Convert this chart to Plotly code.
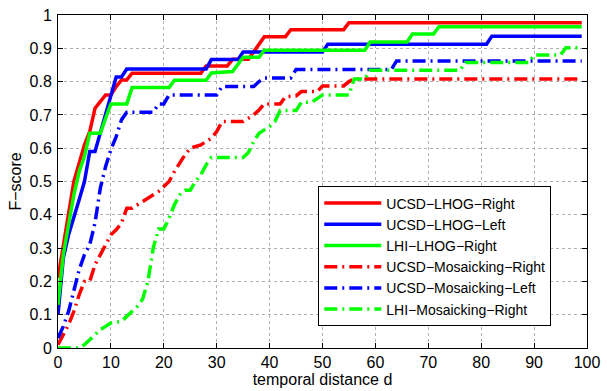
import plotly.graph_objects as go

# ---- data (temporal distance d -> F-score) ----
ucsd_lhog_right_d = [0, 1, 2, 3, 4, 5, 6, 7, 8, 9, 10, 11, 12, 13, 14, 27, 28, 32, 33, 36, 39, 43, 44, 54, 55, 99]
ucsd_lhog_right_f = [0.21, 0.31, 0.41, 0.50, 0.555, 0.61, 0.65, 0.72, 0.74, 0.76, 0.76, 0.785, 0.805, 0.805, 0.825,
                     0.825, 0.847, 0.847, 0.867, 0.867, 0.935, 0.935, 0.956, 0.956, 0.977, 0.977]

ucsd_lhog_left_d = [0, 1, 2, 3, 4, 5, 6, 7, 11, 12, 13, 28, 29, 34, 35, 50, 51, 81, 82, 99]
ucsd_lhog_left_f = [0.10, 0.27, 0.34, 0.39, 0.445, 0.50, 0.59, 0.59, 0.814, 0.814, 0.838, 0.838, 0.866, 0.866,
                    0.889, 0.889, 0.912, 0.912, 0.936, 0.936]

lhi_lhog_right_d = [0, 1, 2, 3, 4, 5, 6, 8, 9, 10, 13, 14, 21, 22, 28, 29, 33, 34, 35, 38, 39, 58, 59, 66, 67, 71, 72, 99]
lhi_lhog_right_f = [0.13, 0.28, 0.37, 0.46, 0.53, 0.575, 0.645, 0.645, 0.69, 0.733, 0.733, 0.782, 0.782, 0.804,
                    0.804, 0.826, 0.83, 0.85, 0.873, 0.873, 0.894, 0.894, 0.919, 0.919, 0.943, 0.943, 0.965, 0.965]

ucsd_mos_right_d = [0, 1, 2, 3, 4, 5, 6, 7, 8, 9, 10, 11, 12, 13, 14, 15, 16, 17, 18, 19, 20, 21, 22, 23, 24, 25,
                    26, 27, 28, 29, 30, 31, 35, 36, 37, 38, 39, 42, 43, 45, 46, 49, 50, 54, 55, 56, 99]
ucsd_mos_right_f = [0.01, 0.04, 0.07, 0.11, 0.16, 0.20, 0.20, 0.25, 0.28, 0.31, 0.34, 0.355, 0.375, 0.42, 0.42,
                    0.43, 0.44, 0.45, 0.46, 0.47, 0.485, 0.50, 0.53, 0.555, 0.58, 0.60, 0.605, 0.61, 0.62, 0.63,
                    0.65, 0.68, 0.68, 0.69, 0.70, 0.715, 0.733, 0.733, 0.755, 0.757, 0.77, 0.77, 0.787, 0.787,
                    0.80, 0.808, 0.808]

ucsd_mos_left_d = [0, 1, 2, 3, 4, 5, 6, 7, 8, 9, 10, 11, 12, 13, 18, 19, 20, 21, 30, 31, 37, 38, 39, 44, 45, 63, 64, 99]
ucsd_mos_left_f = [0.03, 0.065, 0.11, 0.17, 0.235, 0.28, 0.31, 0.376, 0.48, 0.545, 0.596, 0.635, 0.685, 0.708,
                   0.708, 0.733, 0.733, 0.76, 0.76, 0.785, 0.785, 0.80, 0.811, 0.811, 0.836, 0.836, 0.862, 0.862]

lhi_mos_right_d = [0, 4, 5, 6, 7, 8, 9, 10, 11, 12, 13, 14, 15, 16, 17, 18, 19, 20, 21, 22, 23, 24, 25, 26, 27, 28,
                   29, 35, 36, 37, 38, 39, 40, 41, 42, 45, 46, 48, 49, 50, 55, 56, 58, 59, 76, 77, 89, 90, 95, 96, 99]
lhi_mos_right_f = [0, 0, 0.01, 0.025, 0.04, 0.055, 0.065, 0.075, 0.078, 0.08, 0.095, 0.11, 0.125, 0.147, 0.2, 0.3,
                   0.357, 0.357, 0.39, 0.43, 0.46, 0.474, 0.474, 0.5, 0.52, 0.55, 0.572, 0.572, 0.587, 0.62, 0.645,
                   0.655, 0.665, 0.68, 0.713, 0.713, 0.738, 0.738, 0.75, 0.76, 0.76, 0.808, 0.808, 0.834, 0.834,
                   0.857, 0.857, 0.88, 0.88, 0.902, 0.902]

series = [
    ("UCSD−LHOG−Right", ucsd_lhog_right_d, ucsd_lhog_right_f, "#FF0000", "solid"),
    ("UCSD−LHOG−Left", ucsd_lhog_left_d, ucsd_lhog_left_f, "#0000FF", "solid"),
    ("LHI−LHOG−Right", lhi_lhog_right_d, lhi_lhog_right_f, "#00FF00", "solid"),
    ("UCSD−Mosaicking−Right", ucsd_mos_right_d, ucsd_mos_right_f, "#FF0000", "13px,5px,2px,5px"),
    ("UCSD−Mosaicking−Left", ucsd_mos_left_d, ucsd_mos_left_f, "#0000FF", "13px,5px,2px,5px"),
    ("LHI−Mosaicking−Right", lhi_mos_right_d, lhi_mos_right_f, "#00FF00", "13px,5px,2px,5px"),
]

x_ticks = list(range(0, 101, 10))
y_ticks = [i / 10 for i in range(11)]

fig = go.Figure()
for name, d, f, color, dash in series:
    fig.add_trace(go.Scatter(x=d, y=f, mode="lines", name=name,
                             line=dict(color=color, width=3.5, dash=dash)))

FONT = "Liberation Sans, Arial, sans-serif"
FS = 16
axis_common = dict(showline=True, linecolor="black", linewidth=1, mirror="ticks",
                   ticks="inside", ticklen=5, tickcolor="black", tickwidth=1,
                   showgrid=True, gridcolor="#b0b0b0", griddash="dot", gridwidth=1,
                   zeroline=False, ticklabeloverflow="allow",
                   tickfont=dict(family=FONT, size=FS, color="black"))

fig.update_layout(
    width=607, height=391,
    margin=dict(l=58, r=13, t=7, b=43),
    paper_bgcolor="white", plot_bgcolor="white",
    font=dict(family=FONT, size=FS, color="black"),
    showlegend=True,
    legend=dict(x=0.492, y=0.485, xanchor="left", yanchor="top",
                bgcolor="white", bordercolor="black", borderwidth=1,
                font=dict(family=FONT, size=14, color="black"),
                tracegroupgap=0, itemwidth=57, entrywidth=182, entrywidthmode="pixels"),
    xaxis=dict(range=[0, 100], tickvals=x_ticks, ticktext=[str(v) for v in x_ticks],
               title=dict(text="temporal distance d", font=dict(family=FONT, size=FS), standoff=0),
               **axis_common),
    yaxis=dict(range=[0, 1], tickvals=y_ticks, ticktext=["0"] + [f"{v:.1f}" for v in y_ticks[1:-1]] + ["1"],
               title=dict(text="F−score", font=dict(family=FONT, size=FS), standoff=3),
               ticklabelstandoff=2, **axis_common),
)

fig.write_html("out.html")
